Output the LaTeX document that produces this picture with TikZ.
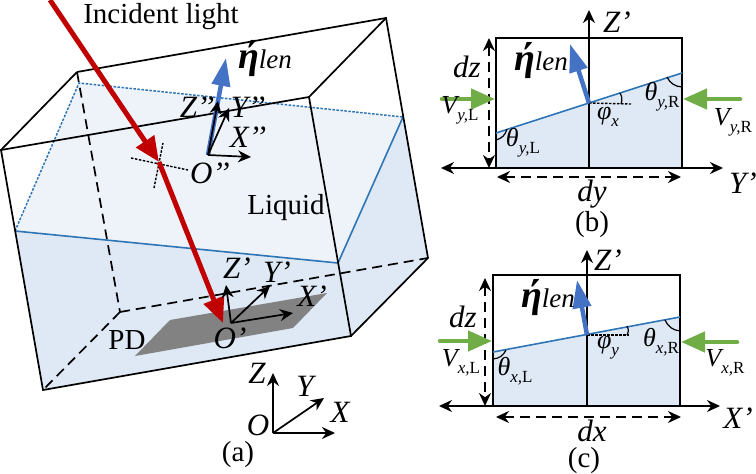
\documentclass[tikz,border=0pt]{standalone}
\usepackage{fontspec}
\setmainfont{Liberation Serif}
\usepackage{tikz}
\usetikzlibrary{arrows.meta}
\definecolor{surf fill}{HTML}{EEF3FA}
\definecolor{liquid fill}{HTML}{DEE9F5}
\definecolor{liquid line}{HTML}{2E75B6}
\definecolor{normal blue}{HTML}{4472C4}
\definecolor{light red}{HTML}{C00000}
\definecolor{flow green}{HTML}{70AD47}
\newcommand{\etalen}{{\fontsize{38}{38}\selectfont\bfseries\itshape ή}{\itshape\fontsize{27}{27}\selectfont len}}
\newcommand{\subtxt}[2]{#1\raisebox{-0.28em}{\fontsize{17}{17}\selectfont\textit{#2}}}

\begin{document}
\begin{tikzpicture}[x=1pt,y=-1pt,>={Stealth[length=13pt,width=12pt]},line width=1.7pt,
                    big label/.style={font=\fontsize{29}{30}\selectfont,inner sep=0pt},
                    axis label/.style={font=\fontsize{31}{32}\selectfont\itshape,inner sep=0pt},
                    small label/.style={font=\fontsize{26}{28}\selectfont\itshape,inner sep=0pt},
                    hidden line/.style={dash pattern=on 10pt off 6pt},
                    dim line/.style={<->,dash pattern=on 10pt off 6pt},
                    surf line/.style={liquid line,line width=1.6pt},
                    surf dots/.style={liquid line,line width=1.5pt,dash pattern=on 2.5pt off 1.5pt},
                    dot line/.style={line width=1.4pt,dash pattern=on 2.5pt off 1.5pt},
                    normal arrow/.style={normal blue,line width=4.5pt,-{Triangle[length=28pt,width=18pt]}},
                    flow arrow/.style={flow green,line width=4.5pt,line cap=round,-{Triangle[length=24pt,width=20pt]}},
                    ray arrow/.style={light red,line width=5pt}]
  \useasboundingbox (0,0) rectangle (756,474);

  % tank corners
  \coordinate (ft1) at (1,150);
  \coordinate (ft2) at (309,97);
  \coordinate (bt1) at (77,72);
  \coordinate (bt2) at (386,18);
  \coordinate (fb1) at (43,390);
  \coordinate (fb2) at (351,336);
  \coordinate (bb1) at (120,312);
  \coordinate (bb2) at (428,258);
  % liquid surface
  \coordinate (s1) at (15,231);
  \coordinate (s2) at (338,263);
  \coordinate (s3) at (403,117);
  \coordinate (s4) at (79,83);

  \fill[surf fill] (s1) -- (s2) -- (s3) -- (s4) -- cycle;
  \fill[liquid fill] (s1) -- (s2) -- (fb2) -- (fb1) -- cycle;
  \fill[liquid fill] (s2) -- (s3) -- (bb2) -- (fb2) -- cycle;
  \fill[gray!98] (170,320) -- (327,293) -- (293,328) -- (135,356) -- cycle;

  \draw[hidden line] (bt1) -- (bb1);
  \draw[hidden line] (bb1) -- (fb1);
  \draw[hidden line] (bb1) -- (bb2);
  \draw[surf dots] (s1) -- (s4) -- (s3);
  \draw[surf line] (s1) -- (s2) -- (s3);
  \draw (ft1) -- (ft2) -- (fb2) -- (fb1) -- cycle;
  \draw (bt1) -- (bt2) -- (bb2) -- (fb2);
  \draw (ft1) -- (bt1);
  \draw (ft2) -- (bt2);

  % incident ray
  \coordinate (r1) at (50,0);
  \coordinate (r2) at (159,162);
  \coordinate (r3) at (223,323);
  \coordinate (c1) at (131,158);
  \coordinate (c2) at (188,170);
  \coordinate (c3) at (154,188);
  \coordinate (c4) at (163,143);
  \draw[dot line] (c1) -- (c2);
  \draw[dot line] (c3) -- (c4);
  \draw[ray arrow,-{Triangle[length=25pt,width=21pt]}] (r1) -- (r2);
  \draw[ray arrow,-{Triangle[length=25pt,width=21pt]}] (r2) -- (r3);

  % frame of the lens
  \coordinate (o2) at (208,155);
  \coordinate (n1) at (226,58);
  \draw[normal arrow] (o2) -- (n1);
  \draw[->] (o2) -- (251,157) coordinate (x2);
  \draw[->] (o2) -- (229,108) coordinate (y2);
  \draw[->] (o2) -- (218,101) coordinate (z2);

  % frame of the detector
  \coordinate (o1) at (231,323);
  \draw[->] (o1) -- (226,285) coordinate (z1);
  \draw[->] (o1) -- (270,286) coordinate (y1);
  \draw[->] (o1) -- (293,313) coordinate (x1);

  % global frame
  \coordinate (o0) at (273,433);
  \draw[->] (o0) -- (273,373) coordinate (z0);
  \draw[->] (o0) -- (324,398) coordinate (y0);
  \draw[->] (o0) -- (335,433) coordinate (x0);

  \node[big label] (incident) at (161,17) {Incident light};
  \node[big label] (liquid) at (286,208) {Liquid};
  \node[big label] (pd) at (127,340) {PD};
  \node[big label] (a) at (238,455) {(a)};
  \node[big label] (etaa) at (265,59) {\etalen};
  \node[axis label] (z2l) at (197,107) {Z’’};
  \node[axis label] (y2l) at (248,107) {Y’’};
  \node[axis label] (x2l) at (248,137) {X’’};
  \node[axis label] (o2l) at (210,173) {O’’};
  \node[axis label] (z1l) at (237,268) {Z’};
  \node[axis label] (y1l) at (277,272) {Y’};
  \node[axis label] (x1l) at (312,296) {X’};
  \node[axis label] (o1l) at (230,338) {O’};
  \node[axis label] (z0l) at (257,373) {Z};
  \node[axis label] (y0l) at (305,386) {Y};
  \node[axis label] (x0l) at (340,412) {X};
  \node[axis label] (o0l) at (258,425) {O};

  % panel b
  \coordinate (b1) at (496,133);
  \coordinate (b2) at (682,73);
  \coordinate (b3) at (682,168);
  \coordinate (b4) at (496,168);
  \coordinate (b5) at (496,38);
  \coordinate (b6) at (682,38);
  \coordinate (bc) at (589,103);
  \fill[liquid fill] (b1) -- (b2) -- (b3) -- (b4) -- cycle;
  \draw (b5) -- (b6) -- (b3) -- (b4) -- cycle;
  \draw[<->] (441,168) coordinate (bl) -- (723,168) coordinate (br);
  \draw[->] (589,168) coordinate (bo) -- (589,10) coordinate (bz);
  \draw[dim line] (489,38) coordinate (bd1) -- (489,168) coordinate (bd2);
  \draw[dim line] (497,177) coordinate (bd3) -- (681,177) coordinate (bd4);
  \draw[surf line] (b1) -- (b2);
  \draw[dot line] (bc) -- (631,104) coordinate (bd);
  \draw[line width=1.2pt] (620,93) to[bend left=25] (621,104);
  \draw[line width=1.2pt] (496,140) to[bend right=30] (507,129);
  \draw[line width=1.2pt] (667,77) to[bend right=30] (682,87);
  \draw[normal arrow] (bc) -- (570,44) coordinate (bn);
  \draw[flow arrow] (442,99) coordinate (bg1) -- (495,99) coordinate (bg2);
  \draw[flow arrow] (740,99) coordinate (bg3) -- (683,99) coordinate (bg4);
  \node[axis label] (bzl) at (617,22) {Z’};
  \node[axis label] (byl) at (743,183) {Y’};
  \node[axis label] (bdz) at (467,67) {dz};
  \node[axis label] (bdy) at (592,194) {dy};
  \node[big label] (b) at (592,225) {(b)};
  \node[big label] (etab) at (541,61) {\etalen};
  \node[small label] (bvl) at (460,110) {\subtxt{V}{y,\upshape L}};
  \node[small label] (bvr) at (733,122) {\subtxt{V}{y,\upshape R}};
  \node[small label] (btl) at (523,143) {\subtxt{θ}{y,\upshape L}};
  \node[small label] (btr) at (662,97) {\subtxt{θ}{y,\upshape R}};
  \node[small label] (bphi) at (608,117) {\subtxt{φ}{x}};

  % panel c
  \coordinate (c11) at (493,352);
  \coordinate (c12) at (680,317);
  \coordinate (c13) at (680,406);
  \coordinate (c14) at (493,406);
  \coordinate (c15) at (493,275);
  \coordinate (c16) at (680,275);
  \coordinate (cc) at (587,335);
  \fill[liquid fill] (c11) -- (c12) -- (c13) -- (c14) -- cycle;
  \draw (c15) -- (c16) -- (c13) -- (c14) -- cycle;
  \draw[<->] (439,406) coordinate (cl) -- (720,406) coordinate (cr);
  \draw[->] (587,406) coordinate (co) -- (587,250) coordinate (cz);
  \draw[dim line] (485,278) coordinate (cd1) -- (485,406) coordinate (cd2);
  \draw[dim line] (496,417) coordinate (cd3) -- (681,417) coordinate (cd4);
  \draw[surf line] (c11) -- (c12);
  \draw[dot line] (cc) -- (629,335) coordinate (cd);
  \draw[line width=1.2pt] (627,326) to[bend left=30] (627,335);
  \draw[line width=1.2pt] (493,359) to[bend right=30] (506,350);
  \draw[line width=1.2pt] (665,320) to[bend right=30] (680,331);
  \draw[normal arrow] (cc) -- (577,280) coordinate (cn);
  \draw[flow arrow] (440,341) coordinate (cg1) -- (492,341) coordinate (cg2);
  \draw[flow arrow] (737,342) coordinate (cg3) -- (681,342) coordinate (cg4);
  \node[axis label] (czl) at (608,260) {Z’};
  \node[axis label] (cxl) at (738,418) {X’};
  \node[axis label] (cdz) at (463,317) {dz};
  \node[axis label] (cdx) at (592,431) {dx};
  \node[big label] (c) at (584,461) {(c)};
  \node[big label] (etac) at (548,298) {\etalen};
  \node[small label] (cvl) at (461,363) {\subtxt{V}{x,\upshape L}};
  \node[small label] (cvr) at (725,363) {\subtxt{V}{x,\upshape R}};
  \node[small label] (ctl) at (515,371) {\subtxt{θ}{x,\upshape L}};
  \node[small label] (ctr) at (661,342) {\subtxt{θ}{x,\upshape R}};
  \node[small label] (cphi) at (608,348) {\subtxt{φ}{y}};
\end{tikzpicture}
\end{document}
